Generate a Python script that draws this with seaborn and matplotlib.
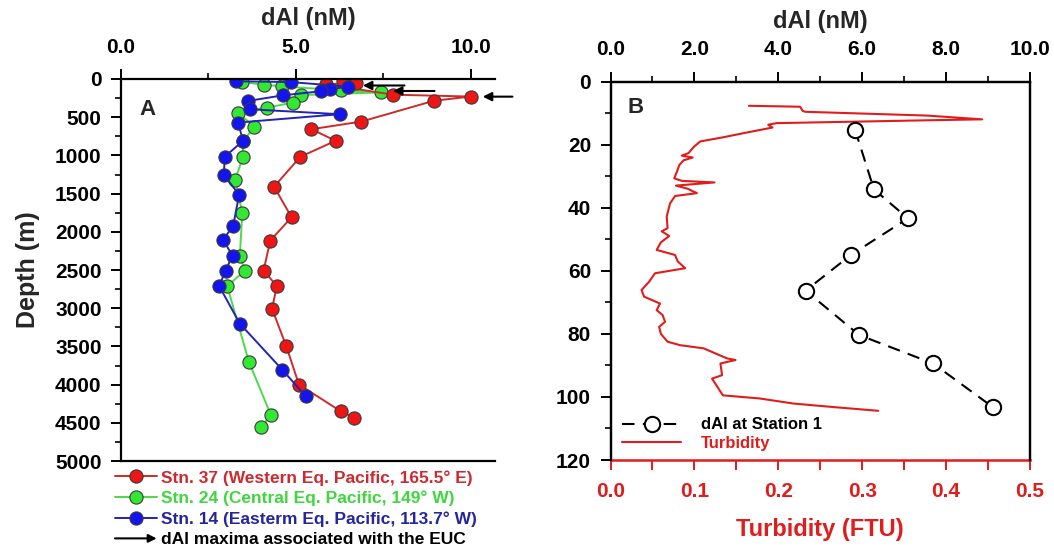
import numpy as np
import pandas as pd
import matplotlib
matplotlib.use("Agg")
import matplotlib.pyplot as plt
import seaborn as sns
from matplotlib.lines import Line2D
from matplotlib.legend_handler import HandlerBase
from matplotlib.patches import FancyArrowPatch
from matplotlib.ticker import MultipleLocator, FormatStrFormatter

# ---------------- data ----------------
# Panel A: dAl (nM) vs depth (m)
stn37_dal = [6.54, 6.35, 6.73, 5.86, 7.78, 10.0, 8.95, 6.88, 5.45, 6.14, 5.13, 4.38, 4.88, 4.27, 4.08, 4.46, 4.32, 4.73, 5.09, 6.28, 6.68]
stn37_depth = [20, 30, 50, 70, 205, 230, 285, 557, 657, 809, 1018, 1410, 1810, 2115, 2507, 2711, 3007, 3499, 3999, 4347, 4435]

stn24_dal = [3.45, 4.1, 4.6, 6.3, 7.45, 5.15, 4.91, 4.19, 3.35, 3.81, 3.49, 3.49, 3.27, 3.47, 3.40, 3.54, 3.04, 3.66, 4.29, 4.00]
stn24_depth = [40, 75, 95, 150, 175, 210, 309, 374, 440, 627, 818, 1018, 1318, 1758, 2311, 2507, 2711, 3703, 4400, 4560]

stn14_dal = [3.3, 4.85, 6.5, 5.97, 5.73, 4.64, 3.64, 3.69, 6.26, 3.35, 3.49, 2.97, 2.94, 3.38, 3.21, 2.92, 3.19, 2.99, 2.81, 3.40, 4.61, 5.28]
stn14_depth = [30, 40, 100, 135, 160, 213, 287, 396, 461, 570, 809, 1018, 1257, 1514, 1919, 2106, 2311, 2507, 2711, 3202, 3803, 4151]

# EUC arrows (depth, tip dAl, tail dAl)
arrow_depth = [85, 157, 231]
arrow_tip = [6.92, 7.78, 10.35]
arrow_tail = [8.11, 8.97, 11.2]

station_labels = ["Stn. 37 (Western Eq. Pacific, 165.5° E)",
                  "Stn. 24 (Central Eq. Pacific, 149° W)",
                  "Stn. 14 (Easterm Eq. Pacific, 113.7° W)"]
arrow_label = "dAl maxima associated with the EUC"

# Panel B: dAl at Station 1
st1_dal = [5.83, 6.28, 7.09, 5.74, 4.65, 5.93, 7.69, 9.11]
st1_depth = [15.3, 34.2, 43.4, 54.9, 66.3, 80.4, 89.4, 103.2]

# Panel B: turbidity (FTU) profile
turb_depth = [7.7, 8.0, 9.3, 9.6, 10.8, 12.0, 12.3, 13.2, 13.7, 14.6, 16.2, 17.7, 19.0, 20.8, 22.7,
              23.5, 24.1, 25.0, 26.5, 28.0, 30.7, 31.5, 32.0, 33.0, 34.0, 35.4, 36.3, 38.6, 42.8,
              46.5, 47.5, 49.0, 51.0, 53.4, 55.0, 57.0, 59.2, 60.8, 63.5, 66.1, 68.2, 70.4, 72.5,
              74.0, 76.2, 77.8, 80.0, 82.5, 83.6, 84.6, 87.8, 88.3, 89.4, 93.1, 94.2, 95.8, 97.9,
              99.5, 100.5, 102.1, 103.2, 104.4]
turb_val = [0.165, 0.226, 0.229, 0.232, 0.377, 0.443, 0.377, 0.198, 0.188, 0.193, 0.162, 0.134, 0.107, 0.099, 0.093,
            0.085, 0.098, 0.087, 0.082, 0.080, 0.076, 0.085, 0.124, 0.078, 0.092, 0.103, 0.077, 0.071, 0.067,
            0.068, 0.061, 0.070, 0.060, 0.055, 0.077, 0.080, 0.089, 0.053, 0.046, 0.037, 0.040, 0.059, 0.055,
            0.062, 0.065, 0.058, 0.060, 0.068, 0.083, 0.111, 0.139, 0.149, 0.131, 0.133, 0.121, 0.125, 0.130,
            0.134, 0.178, 0.218, 0.265, 0.319]

# ---------------- style ----------------
sns.set_theme(style="ticks")
plt.rcParams["font.family"] = ["Liberation Sans", "DejaVu Sans"]
plt.rcParams["font.weight"] = "bold"
plt.rcParams["axes.labelweight"] = "bold"

W, H = 1054, 550
fig = plt.figure(figsize=(W / 100, H / 100), dpi=100)


def box(l, t, r, b):
    return [l / W, 1 - b / H, (r - l) / W, (b - t) / H]


RED_L, RED_M, RED_T = "#cf2a2a", "#ee1515", "#cc2a2e"
GRN_L, GRN_M, GRN_T = "#4cd94c", "#33e833", "#3fd63f"
BLU_L, BLU_M, BLU_T = "#2323b8", "#1414ee", "#25259c"
TURB = "#e01c1c"

# ---------------- panel A ----------------
axA = fig.add_axes(box(121, 79, 495, 461))
series = [(stn24_dal, stn24_depth, GRN_L, GRN_M),
          (stn37_dal, stn37_depth, RED_L, RED_M),
          (stn14_dal, stn14_depth, BLU_L, BLU_M)]
for dal, dep, lc, mc in series:
    df = pd.DataFrame({"dAl": dal, "depth": dep})
    sns.lineplot(data=df, x="dAl", y="depth", sort=False, estimator=None, ax=axA,
                 color=lc, linewidth=1.4, marker="o", markersize=9.5,
                 markerfacecolor=mc, markeredgecolor="#3a3a3a", markeredgewidth=0.8)

for d, tip, tail in zip(arrow_depth, arrow_tip, arrow_tail):
    axA.annotate("", xy=(tip, d), xytext=(tail, d), annotation_clip=False,
                 arrowprops=dict(arrowstyle="-|>", color="black", lw=1.5, mutation_scale=13,
                                 shrinkA=0, shrinkB=0))

axA.set_xlim(0, 10.7)
axA.set_ylim(5000, 0)
axA.xaxis.tick_top()
axA.xaxis.set_label_position("top")
axA.xaxis.set_major_locator(MultipleLocator(5))
axA.xaxis.set_minor_locator(MultipleLocator(2.5))
axA.xaxis.set_major_formatter(FormatStrFormatter("%.1f"))
axA.yaxis.set_major_locator(MultipleLocator(500))
axA.yaxis.set_minor_locator(MultipleLocator(250))
axA.set_xlabel("dAl (nM)", fontsize=17, fontweight="bold", labelpad=9)
axA.set_ylabel("Depth (m)", fontsize=18, fontweight="bold", labelpad=11)
axA.spines["right"].set_visible(False)
for s in ["left", "top", "bottom"]:
    axA.spines[s].set_linewidth(1.6)
    axA.spines[s].set_color("black")
axA.tick_params(axis="both", which="major", direction="out", length=7, width=1.4,
                labelsize=15, pad=7, color="black", labelcolor="black")
axA.tick_params(axis="x", which="major", pad=9)
axA.tick_params(axis="both", which="minor", direction="out", length=4, width=1.2, color="black")
axA.tick_params(axis="x", which="both", bottom=False, top=True, labelbottom=False, labeltop=True)
axA.tick_params(axis="y", which="both", left=True, right=False)
axA.annotate("A", xy=(0.07, 0.92), xycoords="axes fraction", fontsize=16, fontweight="bold",
             ha="center", va="center")


class ArrowHandle:
    pass


class HandlerArrow(HandlerBase):
    def create_artists(self, legend, orig_handle, xdescent, ydescent, width, height, fontsize, trans):
        y = height / 2 - ydescent
        arr = FancyArrowPatch((-xdescent, y), (width - xdescent, y), arrowstyle="-|>",
                              mutation_scale=12, color="black", lw=1.5, transform=trans,
                              shrinkA=0, shrinkB=0)
        return [arr]


handlesA = [Line2D([], [], color=c[0], lw=1.4, marker="o", ms=9.5, mfc=c[1], mec="#3a3a3a", mew=0.8)
            for c in [(RED_L, RED_M), (GRN_L, GRN_M), (BLU_L, BLU_M)]]
handlesA.append(ArrowHandle())
legA = fig.legend(handlesA, station_labels + [arrow_label], loc="upper left",
                  bbox_to_anchor=(115 / W, 1 - 470 / H), frameon=False,
                  prop={"size": 12.5, "weight": "bold"}, handlelength=2.4, handletextpad=0.25,
                  labelspacing=0.3, borderpad=0, borderaxespad=0,
                  labelcolor=[RED_T, GRN_T, BLU_T, "black"],
                  handler_map={ArrowHandle: HandlerArrow()})

# ---------------- panel B ----------------
axB = fig.add_axes(box(610.5, 81.5, 1030, 460))
dfT = pd.DataFrame({"turb": turb_val, "depth": turb_depth})
sns.lineplot(data=dfT, x="turb", y="depth", sort=False, estimator=None, ax=axB,
             color=TURB, linewidth=1.5)
axB.set_xlim(0, 0.5)
axB.set_ylim(120, 0)
axB.xaxis.set_major_locator(MultipleLocator(0.1))
axB.xaxis.set_minor_locator(MultipleLocator(0.05))
axB.xaxis.set_major_formatter(FormatStrFormatter("%.1f"))
axB.yaxis.set_major_locator(MultipleLocator(20))
axB.yaxis.set_minor_locator(MultipleLocator(10))
axB.set_xlabel("Turbidity (FTU)", fontsize=17, fontweight="bold", color=TURB, labelpad=12)
axB.set_ylabel("")
for s in ["left", "top", "right"]:
    axB.spines[s].set_linewidth(1.6)
    axB.spines[s].set_color("black")
axB.spines["bottom"].set_linewidth(1.8)
axB.spines["bottom"].set_color(TURB)
axB.tick_params(axis="x", which="both", direction="out", color=TURB, labelcolor=TURB,
                top=False, bottom=True)
axB.tick_params(axis="x", which="major", length=7, width=1.4, labelsize=15, pad=9)
axB.tick_params(axis="x", which="minor", length=7, width=1.4)
axB.tick_params(axis="y", which="major", direction="out", length=7, width=1.4, labelsize=15, pad=7,
                color="black", labelcolor="black")
axB.tick_params(axis="y", which="minor", direction="out", length=4, width=1.2, color="black")
axB.annotate("B", xy=(0.06, 0.93), xycoords="axes fraction", fontsize=16, fontweight="bold",
             ha="center", va="center")

axBt = axB.twiny()
df1 = pd.DataFrame({"dAl": st1_dal, "depth": st1_depth})
sns.lineplot(data=df1, x="dAl", y="depth", sort=False, estimator=None, ax=axBt,
             color="black", linewidth=1.5, linestyle=(0, (6, 4)), marker="o", markersize=11,
             markerfacecolor="white", markeredgecolor="black", markeredgewidth=1.5)
axBt.set_xlim(0, 10)
axBt.set_ylim(120, 0)
axBt.xaxis.set_major_locator(MultipleLocator(2))
axBt.xaxis.set_minor_locator(MultipleLocator(1))
axBt.xaxis.set_major_formatter(FormatStrFormatter("%.1f"))
axBt.set_xlabel("dAl (nM)", fontsize=17, fontweight="bold", labelpad=9)
axBt.tick_params(axis="x", which="major", direction="out", length=7, width=1.4, labelsize=15, pad=9,
                 color="black", labelcolor="black")
axBt.tick_params(axis="x", which="minor", direction="out", length=4, width=1.2, color="black")
for s in ["left", "top", "right"]:
    axBt.spines[s].set_linewidth(1.6)
    axBt.spines[s].set_color("black")
axBt.spines["bottom"].set_visible(False)

handlesB = [Line2D([], [], color="black", lw=1.5, ls=(0, (6, 4)), marker="o", ms=11,
                   mfc="white", mec="black", mew=1.5),
            Line2D([], [], color=TURB, lw=1.5)]
axBt.legend(handlesB, ["dAl at Station 1", "Turbidity"], loc="upper left",
            bbox_to_anchor=(12 / 420, 1 - 336 / 378.5), frameon=False,
            prop={"size": 12, "weight": "bold"}, handlelength=3.5, handletextpad=1.2,
            labelspacing=0.2, borderpad=0, borderaxespad=0, labelcolor=["black", TURB])

fig.savefig("out.png", dpi=100)
